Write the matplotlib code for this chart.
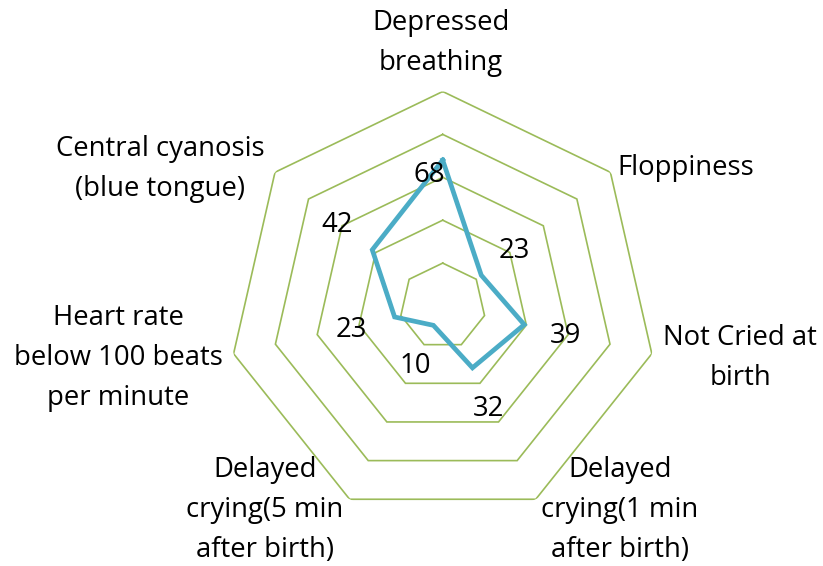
import numpy as np
import matplotlib
matplotlib.use("Agg")
import matplotlib.pyplot as plt

categories = ["Depressed\nbreathing", "Floppiness", "Not Cried at\nbirth",
              "Delayed\ncrying(1 min\nafter birth)", "Delayed\ncrying(5 min\nafter birth)",
              "Heart rate\nbelow 100 beats\nper minute", "Central cyanosis\n(blue tongue)"]
values = [68, 23, 39, 32, 10, 23, 42]
ring_levels = [20, 40, 60, 80, 100]

# layout constants (pixels)
label_pos = [(441, 43), (686, 168), (740, 358), (620, 510), (265, 510), (118, 358), (160, 169)]
value_offsets = [(-13, 15), (33, -24), (41, 11), (16, 41), (-18, 41), (-43, 13), (-35, -25)]

W, H = 823, 566
FONT = "Open Sans"
FS = 19.8
GRID_C = "#9BBB59"
LINE_C = "#4BACC6"

fig = plt.figure(figsize=(W / 100, H / 100), dpi=100)
cx, cy, R = 442.7, 306.0, 214.5
ax = fig.add_axes([(cx - R) / W, 1 - (cy + R) / H, 2 * R / W, 2 * R / H], projection="polar")
ax.set_theta_zero_location("N")
ax.set_theta_direction(-1)
ax.set_ylim(0, 100)
ax.grid(False)
ax.set_xticks([])
ax.set_yticks([])
ax.spines["polar"].set_visible(False)
ax.patch.set_alpha(0)

n = len(values)
theta = np.arange(n) * 2 * np.pi / n
tclosed = np.append(theta, theta[0])

for lv in ring_levels:
    ax.plot(tclosed, [lv] * (n + 1), color=GRID_C, lw=1.2, solid_joinstyle="miter", zorder=1)

vclosed = values + [values[0]]
ax.plot(tclosed, vclosed, color=LINE_C, lw=3.4, solid_joinstyle="miter", zorder=3)

for t, v, (dx, dy) in zip(theta, values, value_offsets):
    ax.annotate(str(v), xy=(t, v), xytext=(dx, -dy), textcoords="offset pixels",
                ha="center", va="center", fontsize=FS, family=FONT, color="black", zorder=4)

for lab, (px, py) in zip(categories, label_pos):
    fig.text(px / W, 1 - py / H, lab, ha="center", va="center", fontsize=FS,
             family=FONT, color="black", linespacing=1.59, multialignment="center")

fig.savefig("out.png", dpi=100, facecolor="white")
